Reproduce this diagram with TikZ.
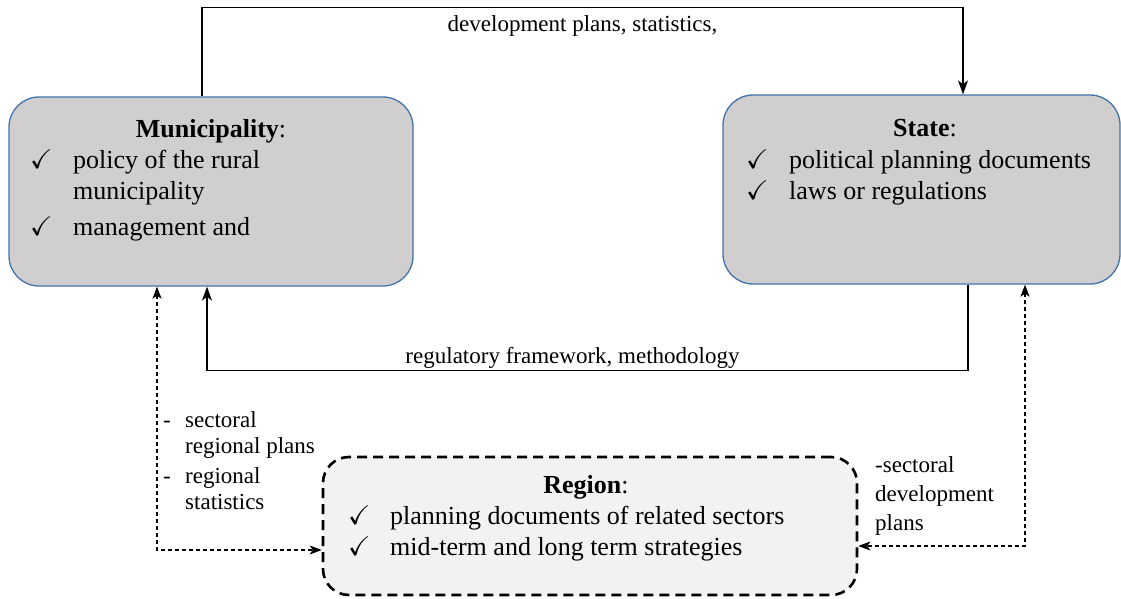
\documentclass[tikz,border=0pt]{standalone}
\usepackage{fontspec}
\setmainfont{Liberation Serif}
\usepackage{amssymb}
\usepackage{xcolor}
\usepackage{tikz}
\usetikzlibrary{positioning}
\usetikzlibrary{arrows.meta}
\pgfdeclarelayer{nodelayer}
\pgfdeclarelayer{edgelayer}
\pgfsetlayers{nodelayer,edgelayer,main}
\definecolor{boxgray}{RGB}{208,206,206}
\definecolor{boxblue}{RGB}{68,114,170}
\definecolor{regfill}{RGB}{242,242,242}
\newcommand{\chk}{{\fontsize{27}{27}\selectfont$\checkmark$}}

\begin{document}
\begin{tikzpicture}[x=1pt, y=-1pt,
    actor/.style={draw=boxblue, fill=boxgray, line width=1.3pt, rounded corners=30pt, minimum height=189pt, inner sep=0pt},
    regbox/.style={draw=black, fill=regfill, line width=2.6pt, dash pattern=on 10pt off 6pt, rounded corners=26pt, minimum width=534pt, minimum height=138pt, inner sep=0pt},
    title/.style={anchor=base, inner sep=0pt, font=\fontsize{26}{31}\selectfont},
    list/.style={anchor=base west, inner sep=0pt, font=\fontsize{26}{31}\selectfont},
    lab/.style={inner sep=0pt, font=\fontsize{23}{26}\selectfont},
    flow/.style={-{Stealth[length=14pt, width=10pt, inset=4pt]}, line width=1.3pt},
    link/.style={{Stealth[length=12pt, width=9pt, inset=3pt]}-{Stealth[length=12pt, width=9pt, inset=3pt]}, line width=1.2pt, dash pattern=on 4pt off 3pt}]
  \useasboundingbox (0,0) rectangle (1121,599);
  \begin{pgfonlayer}{nodelayer}
    % the three actors
    \node [actor, minimum width=404pt] (mun) at (211,191.5) {};
    \node [actor, minimum width=397pt] (sta) at (921.5,189.5) {};
    \node [regbox] (reg) at (590,526) {};
    \node [title] (muntitle) at (211,137) {\textbf{Municipality}:};
    \node [list] (munlist) at (30,168) {\begin{tabular}[t]{@{}p{43pt}@{}l@{}}
      \chk & policy of the rural\\
           & municipality\\[5pt]
      \chk & management and
    \end{tabular}};
    \node [title] (statitle) at (925,136) {\textbf{State}:};
    \node [list] (stalist) at (746,168) {\begin{tabular}[t]{@{}p{43pt}@{}l@{}}
      \chk & political planning documents\\
      \chk & laws or regulations
    \end{tabular}};
    \node [title] (regtitle) at (586,493) {\textbf{Region}:};
    \node [list] (reglist) at (348,524) {\begin{tabular}[t]{@{}p{42pt}@{}l@{}}
      \chk & planning documents of related sectors\\
      \chk & mid-term and long term strategies
    \end{tabular}};
    % side notes
    \node [lab, anchor=base west] (leftlab) at (163,427) {\begin{tabular}[t]{@{}p{22pt}@{}l@{}}
      - & sectoral\\
        & regional plans\\[4pt]
      - & regional\\
        & statistics
    \end{tabular}};
    \node [lab, anchor=base west, font=\fontsize{23}{29}\selectfont] (rightlab) at (875,472) {\begin{tabular}[t]{@{}l@{}}
      -sectoral\\
      development\\
      plans
    \end{tabular}};
  \end{pgfonlayer}
  \begin{pgfonlayer}{edgelayer}
    \draw [flow] ([xshift=-9pt]mun.north) -- ++(0,-89)
      -| node [lab, pos=0.25, below=8pt] (devlab) {development plans, statistics,} ([xshift=41.5pt]sta.north);
    \draw [flow] ([xshift=46.5pt]sta.south) -- ++(0,86)
      -| node [lab, pos=0.25, above=2pt, xshift=-15pt] (reglab) {regulatory framework, methodology} ([xshift=-4pt]mun.south);
    \draw [link] ([xshift=-54pt]mun.south) |- ([yshift=-24pt]reg.west);
    \draw [link] ([xshift=103.5pt]sta.south) |- ([yshift=-20pt]reg.east);
  \end{pgfonlayer}
\end{tikzpicture}
\end{document}
